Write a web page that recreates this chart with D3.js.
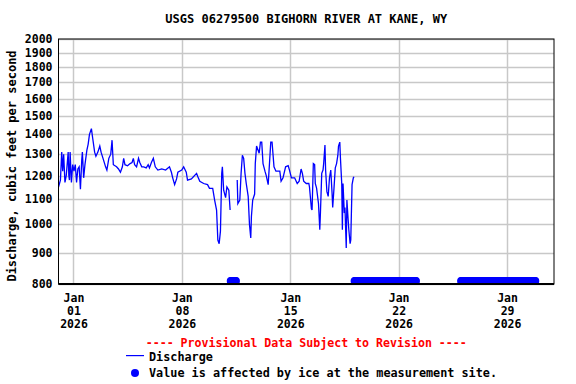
<html>
<head>
    <title>USGS 06279500 BIGHORN RIVER AT KANE, WY</title>
    <script src="https://cdn.jsdelivr.net/npm/d3@7"></script>
    <style type="text/css">
        body {
            margin: 0;
            background-color: white;
        }
        text {
            font-family: "DejaVu Sans Mono", monospace;
            font-weight: bold;
        }
    </style>
</head>
<body>
    <script>
        var w = 576;
        var h = 384;

        // discharge readings, cubic feet per second (null = gap in record)
        var flowTimes = [
            "2025-12-31 00:00", "2025-12-31 03:00", "2025-12-31 05:00", "2025-12-31 06:30", "2025-12-31 08:00",
            "2025-12-31 10:00", "2025-12-31 12:00", "2025-12-31 15:00", "2025-12-31 16:00", "2025-12-31 17:00",
            "2025-12-31 18:00", "2025-12-31 20:00", "2025-12-31 22:00",
            "2026-01-01 00:00", "2026-01-01 02:00", "2026-01-01 04:00", "2026-01-01 06:00", "2026-01-01 08:00",
            "2026-01-01 10:00", "2026-01-01 12:00", "2026-01-01 13:00", "2026-01-01 15:00", "2026-01-01 17:00",
            "2026-01-01 20:00", "2026-01-01 22:00",
            "2026-01-02 00:00", "2026-01-02 03:00", "2026-01-02 05:00", "2026-01-02 08:00", "2026-01-02 10:00",
            "2026-01-02 13:00", "2026-01-02 16:00", "2026-01-02 18:00", "2026-01-02 21:00",
            "2026-01-03 01:00", "2026-01-03 03:00", "2026-01-03 06:00", "2026-01-03 09:00", "2026-01-03 11:00",
            "2026-01-03 13:00", "2026-01-03 18:00", "2026-01-03 21:00",
            "2026-01-04 00:00", "2026-01-04 03:00", "2026-01-04 05:00", "2026-01-04 07:00", "2026-01-04 11:00",
            "2026-01-04 15:00", "2026-01-04 18:00", "2026-01-04 20:00", "2026-01-04 22:00",
            "2026-01-05 01:00", "2026-01-05 04:00", "2026-01-05 06:00", "2026-01-05 09:00", "2026-01-05 12:00",
            "2026-01-05 16:00", "2026-01-05 19:00", "2026-01-05 21:00",
            "2026-01-06 00:00", "2026-01-06 03:00", "2026-01-06 06:00", "2026-01-06 10:00", "2026-01-06 16:00",
            "2026-01-06 22:00",
            "2026-01-07 04:00", "2026-01-07 07:00", "2026-01-07 09:00", "2026-01-07 12:00", "2026-01-07 15:00",
            "2026-01-07 17:00", "2026-01-07 23:00",
            "2026-01-08 02:00", "2026-01-08 06:00", "2026-01-08 08:00", "2026-01-08 14:00", "2026-01-08 22:00",
            "2026-01-09 00:00", "2026-01-09 03:00", "2026-01-09 09:00", "2026-01-09 15:00", "2026-01-09 18:00",
            "2026-01-09 23:00",
            "2026-01-10 02:00", "2026-01-10 05:00", "2026-01-10 07:00", "2026-01-10 09:00", "2026-01-10 11:00",
            "2026-01-10 13:00", "2026-01-10 14:00", "2026-01-10 16:00", "2026-01-10 19:00", "2026-01-10 21:00",
            "2026-01-11 00:00", "2026-01-11 02:00", "2026-01-11 07:00", "2026-01-11 13:00", "2026-01-11 14:00",
            "2026-01-11 17:00", "2026-01-11 19:00", "2026-01-11 21:00", "2026-01-11 23:00",
            "2026-01-12 01:00", "2026-01-12 03:00", "2026-01-12 06:00", "2026-01-12 08:00", "2026-01-12 10:00",
            "2026-01-12 11:00", "2026-01-12 13:00", "2026-01-12 16:00", "2026-01-12 17:00", "2026-01-12 19:00",
            "2026-01-12 23:00",
            "2026-01-13 01:00", "2026-01-13 03:00", "2026-01-13 05:00", "2026-01-13 08:00", "2026-01-13 10:00",
            "2026-01-13 13:00", "2026-01-13 15:00", "2026-01-13 17:00", "2026-01-13 19:00", "2026-01-13 22:00",
            "2026-01-14 01:00", "2026-01-14 07:00", "2026-01-14 09:00", "2026-01-14 12:00", "2026-01-14 16:00",
            "2026-01-14 20:00", "2026-01-14 22:00",
            "2026-01-15 01:00", "2026-01-15 06:00", "2026-01-15 10:00", "2026-01-15 13:00", "2026-01-15 16:00",
            "2026-01-15 18:00", "2026-01-15 20:00",
            "2026-01-16 00:00", "2026-01-16 04:00", "2026-01-16 05:00", "2026-01-16 08:00", "2026-01-16 09:00",
            "2026-01-16 11:00", "2026-01-16 13:00", "2026-01-16 14:00", "2026-01-16 16:00", "2026-01-16 19:00",
            "2026-01-16 21:00", "2026-01-16 22:00",
            "2026-01-17 00:00", "2026-01-17 02:00", "2026-01-17 03:00", "2026-01-17 05:00", "2026-01-17 06:00",
            "2026-01-17 08:00", "2026-01-17 10:00", "2026-01-17 12:00", "2026-01-17 14:00", "2026-01-17 16:00",
            "2026-01-17 17:00", "2026-01-17 19:00", "2026-01-17 21:00", "2026-01-17 23:00",
            "2026-01-18 01:00", "2026-01-18 02:00", "2026-01-18 04:00", "2026-01-18 05:00", "2026-01-18 07:00",
            "2026-01-18 08:00", "2026-01-18 09:00", "2026-01-18 11:00", "2026-01-18 12:00", "2026-01-18 14:00",
            "2026-01-18 15:00", "2026-01-18 17:00", "2026-01-18 18:00", "2026-01-18 20:00", "2026-01-18 21:00",
            "2026-01-18 23:00",
            "2026-01-19 01:00", "2026-01-19 02:00"
        ];
        var flowValues = [
            1150, 1180, 1310, 1220, 1300,
            1170, 1200, 1310, 1200, 1180,
            1310, 1170, 1250,
            1220, 1250, 1170, 1230, 1240,
            1140, 1270, 1310, 1190, 1250,
            1320, 1350,
            1400, 1430, 1380, 1310, 1290,
            1310, 1340, 1310, 1280,
            1240, 1225, 1280, 1300, 1370,
            1250, 1240, 1230,
            1215, 1240, 1280, 1250, 1245,
            1255, 1260, 1280, 1250,
            1240, 1280, 1260, 1240, 1240,
            1235, 1250, 1235,
            1260, 1280, 1240, 1225, 1230,
            1225,
            1240, 1215, 1190, 1160, 1185,
            1215, 1225,
            1240, 1215, 1180, 1185, 1210,
            1195, 1175, 1165, 1160, 1144,
            1144,
            1095, 1055, 943, 930, 975,
            1210, 1240, 1136, 1105, 1150,
            1136, 1055, null, 1180, 1081,
            1095, 1210, 1295, 1280,
            1210, 1165, 1110, 1000, 950,
            1030, 1095, 1120, 1255, 1340,
            1305,
            1360, 1360, 1255, 1220, 1200,
            1160, 1255, 1360, 1360, 1240,
            1220, 1220, 1175, 1190, 1240,
            1245, 1225,
            1190, 1190, 1165, 1175, 1230,
            1210, 1175,
            1165, 1165, 1150, 1060, 1055,
            1255, 1250, 1165, 1145, 1080,
            980, 1045,
            1210, 1225, 1255, 1345, 1225,
            1130, 1110, 1190, 1225, 1125,
            1065, 1145, 1235, 1255,
            1295, 1340, 1360, 1280, 1165,
            980, 1165, 1043, 1065, 915,
            1095, 1015, 980, 930, 943,
            1160,
            1190, 1195
        ];

        // periods where the value is affected by ice
        var iceStarts = ["2026-01-11 03:00", "2026-01-19 03:00", "2026-01-21 13:00", "2026-01-26 00:00"];
        var iceEnds = ["2026-01-11 11:00", "2026-01-21 11:00", "2026-01-23 02:00", "2026-01-30 19:00"];

        var yTicks = [800, 900, 1000, 1100, 1200, 1300, 1400, 1500, 1600, 1700, 1800, 1900, 2000];
        var xTicks = ["2026-01-01 00:00", "2026-01-08 00:00", "2026-01-15 00:00", "2026-01-22 00:00", "2026-01-29 00:00"];

        var parse = d3.timeParse("%Y-%m-%d %H:%M");

        var margin = { left: 58.5, right: 22, top: 39, bottom: 100 };
        var pw = w - margin.left - margin.right;
        var ph = h - margin.top - margin.bottom;

        var svg = d3.select("body")
            .append("svg")
            .attr("width", w)
            .attr("height", h);

        var xScale = d3.scaleTime()
            .domain([parse("2025-12-31 00:00"), parse("2026-02-01 00:00")])
            .range([0, pw]);
        var yScale = d3.scaleLog()
            .domain([800, 2000])
            .range([ph, 0]);

        var g = svg.append("g")
            .attr("transform", "translate(" + margin.left + "," + margin.top + ")");

        // grid
        g.selectAll("line.hgrid")
            .data(yTicks)
            .enter()
            .append("line")
            .attr("x1", 0)
            .attr("x2", pw)
            .attr("y1", function(d) { return Math.round(yScale(d)) + 0.5; })
            .attr("y2", function(d) { return Math.round(yScale(d)) + 0.5; })
            .attr("stroke", "#c8c8c8")
            .attr("stroke-width", 1.5);
        g.selectAll("line.vgrid")
            .data(xTicks)
            .enter()
            .append("line")
            .attr("x1", function(d) { return Math.round(xScale(parse(d))); })
            .attr("x2", function(d) { return Math.round(xScale(parse(d))); })
            .attr("y1", 0)
            .attr("y2", ph)
            .attr("stroke", "#c8c8c8")
            .attr("stroke-width", 1.5);

        // y tick labels
        g.selectAll("text.ylab")
            .data(yTicks)
            .enter()
            .append("text")
            .attr("x", -6)
            .attr("y", function(d) { return yScale(d) + 4; })
            .attr("text-anchor", "end")
            .attr("font-size", "11.5px")
            .text(function(d) { return d; });

        // x tick labels: month / day / year
        var xl = g.selectAll("text.xlab")
            .data(xTicks)
            .enter()
            .append("text")
            .attr("text-anchor", "middle")
            .attr("font-size", "11.5px")
            .attr("transform", function(d) { return "translate(" + xScale(parse(d)) + ",0)"; });
        xl.append("tspan").attr("x", 0).attr("y", ph + 18).text(function(d) { return d3.timeFormat("%b")(parse(d)); });
        xl.append("tspan").attr("x", 0).attr("y", ph + 31).text(function(d) { return d3.timeFormat("%d")(parse(d)); });
        xl.append("tspan").attr("x", 0).attr("y", ph + 44).text(function(d) { return d3.timeFormat("%Y")(parse(d)); });

        // discharge line
        var flow = flowTimes.map(function(t, i) {
            return { t: parse(t), v: flowValues[i] };
        });
        var line = d3.line()
            .defined(function(d) { return d.v !== null; })
            .x(function(d) { return xScale(d.t); })
            .y(function(d) { return yScale(d.v); });
        g.append("path")
            .datum(flow)
            .attr("d", line)
            .attr("fill", "none")
            .attr("stroke", "#0000ff")
            .attr("stroke-width", 1.3);

        // ice-affected points along the bottom
        var icePts = [];
        iceStarts.forEach(function(s, i) {
            d3.timeHour.every(1).range(parse(s), d3.timeMinute.offset(parse(iceEnds[i]), 1))
                .forEach(function(t) { icePts.push(t); });
        });
        g.selectAll("circle.ice")
            .data(icePts)
            .enter()
            .append("circle")
            .attr("cx", function(d) { return xScale(d); })
            .attr("cy", ph - 3)
            .attr("r", 4)
            .attr("fill", "#0000ff");

        // frame
        g.append("rect")
            .attr("x", 0)
            .attr("y", 0)
            .attr("width", pw)
            .attr("height", ph)
            .attr("fill", "none")
            .attr("stroke", "black")
            .attr("stroke-width", 1);
        g.append("line")
            .attr("x1", 0).attr("x2", pw)
            .attr("y1", ph).attr("y2", ph)
            .attr("stroke", "black")
            .attr("stroke-width", 2);

        // title
        svg.append("text")
            .attr("x", margin.left + pw / 2)
            .attr("y", 23)
            .attr("text-anchor", "middle")
            .attr("font-size", "12px")
            .text("USGS 06279500 BIGHORN RIVER AT KANE, WY");

        // y axis title
        svg.append("text")
            .attr("transform", "translate(16," + 166 + ") rotate(-90)")
            .attr("text-anchor", "middle")
            .attr("font-size", "12px")
            .text("Discharge, cubic feet per second");

        // footer and legend
        svg.append("text")
            .attr("x", margin.left + pw / 2)
            .attr("y", 347)
            .attr("text-anchor", "middle")
            .attr("font-size", "11.6px")
            .attr("fill", "red")
            .text("---- Provisional Data Subject to Revision ----");
        svg.append("rect")
            .attr("x", 126)
            .attr("y", 355)
            .attr("width", 18)
            .attr("height", 1.2)
            .attr("fill", "#0000ff");
        svg.append("text")
            .attr("x", 149)
            .attr("y", 361)
            .attr("font-size", "11.8px")
            .text("Discharge");
        svg.append("circle")
            .attr("cx", 135)
            .attr("cy", 373)
            .attr("r", 4)
            .attr("fill", "#0000ff");
        svg.append("text")
            .attr("x", 149)
            .attr("y", 377)
            .attr("font-size", "11.8px")
            .text("Value is affected by ice at the measurement site.");
    </script>
</body>
</html>
